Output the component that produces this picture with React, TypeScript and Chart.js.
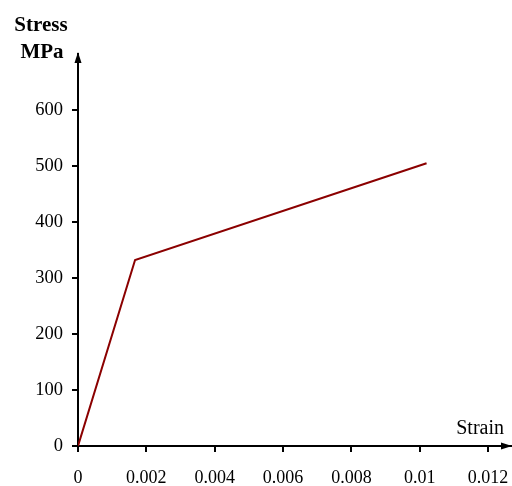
import React, { useEffect, useRef } from "react";
import { Chart, registerables } from "chart.js";

Chart.register(...registerables);

const strainValues = [0, 0.00167, 0.0102];
const stressValues = [0, 332, 505];
const xTickValues = [0, 0.002, 0.004, 0.006, 0.008, 0.01, 0.012];
const yTickValues = [0, 100, 200, 300, 400, 500, 600];
const yTitleLines = ["Stress", "MPa"];
const xTitle = "Strain";

const FONT = "'Liberation Serif', 'Times New Roman', serif";

const decorPlugin = {
  id: "decor",
  afterDraw(chart: any) {
    const { ctx, chartArea } = chart;
    const { left, right, top, bottom } = chartArea;
    ctx.save();
    ctx.fillStyle = "#000";
    // y arrow
    ctx.beginPath();
    ctx.moveTo(left, top - 2);
    ctx.lineTo(left - 3.5, top + 9);
    ctx.lineTo(left + 3.5, top + 9);
    ctx.closePath();
    ctx.fill();
    // x arrow
    ctx.beginPath();
    ctx.moveTo(right, bottom);
    ctx.lineTo(right - 11, bottom - 3.5);
    ctx.lineTo(right - 11, bottom + 3.5);
    ctx.closePath();
    ctx.fill();
    // titles
    ctx.font = `bold 21px ${FONT}`;
    ctx.textAlign = "center";
    ctx.textBaseline = "alphabetic";
    ctx.fillText(yTitleLines[0], 41, 31);
    ctx.fillText(yTitleLines[1], 42, 58);
    ctx.font = `20px ${FONT}`;
    ctx.textAlign = "right";
    ctx.fillText(xTitle, right - 8, bottom - 12);
    ctx.restore();
  },
};

export default function App() {
  const ref = useRef<HTMLCanvasElement>(null);
  useEffect(() => {
    const points = strainValues.map((x, i) => ({ x, y: stressValues[i] }));
    const chart = new Chart(ref.current!, {
      type: "scatter",
      data: {
        datasets: [
          {
            data: points,
            showLine: true,
            borderColor: "#8B0000",
            borderWidth: 2,
            pointRadius: 0,
            tension: 0,
          },
        ],
      },
      options: {
        responsive: false,
        animation: false,
        layout: { padding: { top: 54, right: 0, left: 0, bottom: 0 } },
        plugins: { legend: { display: false }, tooltip: { enabled: false } },
        scales: {
          x: {
            type: "linear",
            min: 0,
            max: 0.0127,
            afterBuildTicks: (s: any) => {
              s.ticks = xTickValues.map((v) => ({ value: v }));
            },
            afterFit: (s: any) => {
              s.height = 40;
              s.paddingRight = 0;
              s.paddingLeft = 0;
            },
            grid: { drawOnChartArea: false, drawTicks: true, tickLength: 6, color: "#000", lineWidth: 2 },
            border: { display: true, color: "#000", width: 2 },
            ticks: {
              color: "#000",
              font: { family: FONT, size: 18 },
              padding: 15,
              maxRotation: 0,
              autoSkip: false,
              callback: (v: any) => String(v),
            },
          },
          y: {
            type: "linear",
            min: 0,
            max: 700,
            afterBuildTicks: (s: any) => {
              s.ticks = yTickValues.map((v) => ({ value: v }));
            },
            afterFit: (s: any) => {
              s.width = 78;
              s.paddingTop = 0;
              s.paddingBottom = 0;
            },
            grid: { drawOnChartArea: false, drawTicks: true, tickLength: 6, color: "#000", lineWidth: 2 },
            border: { display: true, color: "#000", width: 2 },
            ticks: {
              color: "#000",
              font: { family: FONT, size: 18.5 },
              padding: 9,
              autoSkip: false,
              callback: (v: any) => String(v),
            },
          },
        },
      },
      plugins: [decorPlugin],
    });
    return () => chart.destroy();
  }, []);
  return (
    <div style={{ position: "absolute", left: 0, top: 0, width: 512, height: 486, background: "#fff" }}>
      <canvas ref={ref} width={512} height={486} style={{ display: "block" }} />
    </div>
  );
}
